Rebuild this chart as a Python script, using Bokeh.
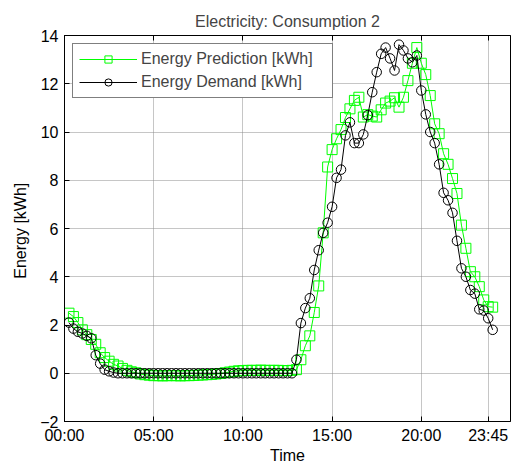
from bokeh.plotting import figure
from bokeh.models import Range1d, FixedTicker, LinearAxis, Legend, LegendItem, ColumnDataSource
from bokeh.embed import file_html
from bokeh.resources import INLINE

# ---- data (15-minute slots, plotted at slot numbers 1..96) ----
slots = list(range(1, 97))

demand = [2.1, 1.85, 1.72, 1.65, 1.55, 1.45, 0.75, 0.4, 0.15, 0.08, 0.03] + [0.0] * 40 + [
    0.56, 2.08, 2.7, 3.11, 4.28, 5.1, 5.82, 6.24, 6.9, 8.1,
    8.44, 9.86, 10.4, 9.54, 9.54, 9.9, 10.7, 11.65, 12.48, 13.24,
    13.5, 13.05, 12.55, 13.62, 13.38, 13.05, 12.89, 13.17, 11.72, 10.73,
    10.0, 9.54, 8.66, 7.48, 7.17, 6.65, 5.49, 4.35, 4.0, 3.45,
    3.3, 2.65, 2.6, 2.28, 1.8]

prediction = [2.49, 2.35, 2.1, 1.8, 1.6, 1.4, 1.2, 0.85, 0.65, 0.5,
              0.37, 0.3, 0.2, 0.12, 0.06, 0.02, -0.03, -0.06,
              -0.08, -0.1, -0.1, -0.11, -0.1, -0.1, -0.1, -0.11, -0.1, -0.1,
              -0.09, -0.08, -0.07, -0.06, -0.05,
              -0.03, -0.01, 0.02, 0.05, 0.08,
              0.1, 0.11, 0.12, 0.12, 0.12, 0.13, 0.12, 0.12, 0.12, 0.12, 0.11, 0.11, 0.12,
              0.15, 0.56, 1.14, 1.55, 2.52, 3.62, 5.82, 8.55, 9.27, 9.72,
              10.1, 10.6, 10.96, 11.31, 11.44, 10.62, 10.72, 10.66, 10.62, 10.92,
              11.2, 11.28, 11.42, 11.03, 11.44, 12.13, 12.85, 13.5, 12.85, 12.38,
              11.51, 10.34, 9.93, 9.1, 8.66, 8.07, 7.45, 6.14, 5.18, 4.21,
              4.0, 3.59, 3.04, 2.76, 2.74]

x_tick_pos = [0, 20, 40, 60, 80, 95]
x_tick_labels = ["00:00", "05:00", "10:00", "15:00", "20:00", "23:45"]
y_ticks = [-2, 0, 2, 4, 6, 8, 10, 12, 14]

FONT = "Liberation Sans"
FS = "16px"

src = ColumnDataSource(dict(x=slots, demand=demand, pred=prediction))

p = figure(width=512, height=468, output_backend="svg", toolbar_location=None,
           x_range=Range1d(0, 100), y_range=Range1d(-2, 14),
           min_border_left=64, min_border_right=2, min_border_top=35, min_border_bottom=47,
           title="Electricity: Consumption 2")

p.title.align = "center"
p.title.text_font = FONT
p.title.text_font_size = FS
p.title.text_font_style = "normal"
p.title.standoff = 12

p.outline_line_color = "black"
p.outline_line_width = 1
p.background_fill_color = "white"
p.border_fill_color = "white"

xt = FixedTicker(ticks=x_tick_pos)
yt = FixedTicker(ticks=y_ticks)

for ax in (p.xaxis[0], p.yaxis[0]):
    ax.major_tick_in = 5
    ax.major_tick_out = 0
    ax.minor_tick_in = 0
    ax.minor_tick_out = 0
    ax.axis_line_color = "black"
    ax.major_tick_line_color = "black"
    ax.major_label_text_font = FONT
    ax.major_label_text_font_size = FS
    ax.major_label_text_color = "black"
    ax.axis_label_text_font = FONT
    ax.axis_label_text_font_size = FS
    ax.axis_label_text_font_style = "normal"
    ax.axis_label_text_color = "black"

p.xaxis[0].ticker = xt
p.xaxis[0].major_label_overrides = {pos: lab for pos, lab in zip(x_tick_pos, x_tick_labels)}
p.xaxis[0].axis_label = "Time"
p.xaxis[0].major_label_standoff = 5
p.xaxis[0].axis_label_standoff = 0
p.yaxis[0].ticker = yt
p.yaxis[0].axis_label = "Energy  [kWh]"
p.yaxis[0].major_label_standoff = 6
p.yaxis[0].axis_label_standoff = 8

top_ax = LinearAxis(ticker=xt, major_label_text_font_size="0px", major_label_standoff=0,
                    axis_label_standoff=0,
                    major_tick_in=5, major_tick_out=0, minor_tick_in=0, minor_tick_out=0,
                    axis_line_color="black", major_tick_line_color="black")
top_ax.major_label_overrides = {pos: "" for pos in x_tick_pos}
p.add_layout(top_ax, "above")

p.xgrid.ticker = xt
p.ygrid.ticker = yt
p.grid.grid_line_color = "#8c8c8c"
p.grid.grid_line_dash = "1 1"
p.grid.grid_line_width = 1

GREEN = "#00ff00"
g_line = p.line("x", "pred", source=src, line_color=GREEN, line_width=1)
g_mark = p.scatter("x", "pred", source=src, marker="square", size=10,
                   line_color=GREEN, fill_alpha=0, line_width=1)
b_line = p.line("x", "demand", source=src, line_color="black", line_width=1)
b_mark = p.scatter("x", "demand", source=src, marker="circle", size=9.5,
                   line_color="black", fill_alpha=0, line_width=1)

legend = Legend(items=[LegendItem(label="Energy Prediction [kWh]", renderers=[g_line, g_mark]),
                       LegendItem(label="Energy Demand [kWh]", renderers=[b_line, b_mark])],
                location=(8, 323), orientation="vertical",
                border_line_color="black", border_line_width=1,
                background_fill_color="white", background_fill_alpha=1,
                label_text_font=FONT, label_text_font_size=FS,
                glyph_width=58, glyph_height=18, label_height=18, label_standoff=4,
                label_width=185, padding=6, spacing=5, margin=0)
p.add_layout(legend)

open("out.html", "w").write(file_html(p, INLINE))
